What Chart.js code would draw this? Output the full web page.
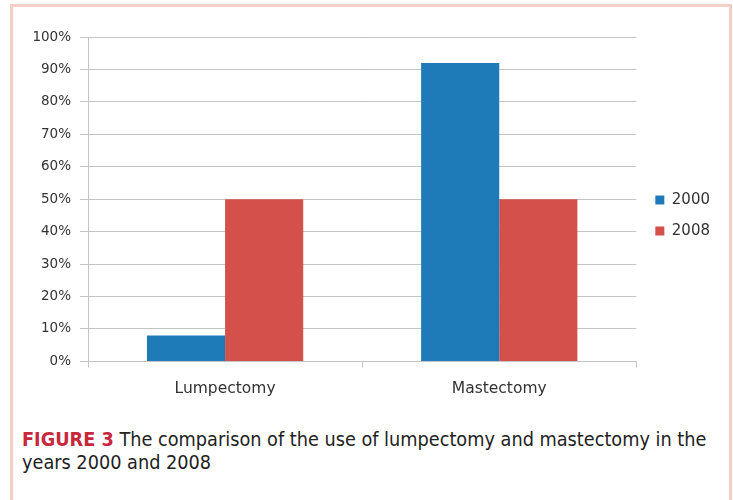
<!DOCTYPE html>
<html>
<head>
<meta charset="utf-8">
<script src="https://cdn.jsdelivr.net/npm/chart.js@4"></script>
<style>
  body { margin: 0; background: #fff; }
  .frame {
    position: absolute; left: 10px; top: 4px; width: 716px; height: 520px;
    border: 3px solid #f3cfc6; background: #fff;
  }
  .chart-box { position: absolute; left: 0; top: 0; width: 733px; height: 410px; }
  .caption {
    position: absolute; left: 22px; top: 428px; width: 705px;
    font-family: "DejaVu Sans Condensed", sans-serif;
    font-size: 19.7px; line-height: 23px; color: #222;
  }
  .caption b { color: #c8283c; }
</style>
</head>
<body>
<div class="frame"></div>
<div class="chart-box"><canvas id="chart"></canvas></div>
<div class="caption"><b>FIGURE 3</b> The comparison of the use of lumpectomy and mastectomy in the years 2000 and 2008</div>
<script>
// Data
const categories = ['Lumpectomy', 'Mastectomy'];
const values2000 = [8, 92];
const values2008 = [50, 50];
const yTicks = [0, 10, 20, 30, 40, 50, 60, 70, 80, 90, 100];

// nudge legend a bit higher and to the right, like the original
const legendShift = {
    id: 'legendShift',
    afterLayout(chart) {
        const lg = chart.legend;
        if (!lg) return;
        lg.top -= 8; lg.bottom -= 8;
        lg.left += 3; lg.right += 3;
    }
};

const ctx = document.getElementById('chart').getContext('2d');
new Chart(ctx, {
    type: 'bar',
    data: {
        labels: categories,
        datasets: [
            { label: '2000', data: values2000, backgroundColor: '#1f7bb8' },
            { label: '2008', data: values2008, backgroundColor: '#d4504b' }
        ]
    },
    options: {
        responsive: true,
        maintainAspectRatio: false,
        animation: false,
        layout: { padding: { left: 10, top: 37, right: 16, bottom: 0 } },
        datasets: { bar: { categoryPercentage: 0.57, barPercentage: 1 } },
        plugins: {
            legend: {
                position: 'right',
                labels: {
                    boxWidth: 9, boxHeight: 9, padding: 16,
                    color: '#333', font: { family: 'DejaVu Sans', size: 15 }
                }
            },
            tooltip: { enabled: false }
        },
        scales: {
            y: {
                min: 0, max: 100,
                afterBuildTicks: s => { s.ticks = yTicks.map(v => ({ value: v })); },
                afterFit: s => { s.width = 78; },
                ticks: { color: '#333', font: { family: 'DejaVu Sans', size: 13.5 }, callback: v => v + '%', padding: 9 },
                grid: { color: '#c4c4c4', tickLength: 8 },
                border: { color: '#c4c4c4' }
            },
            x: {
                ticks: { color: '#333', font: { family: 'DejaVu Sans', size: 15.5 }, padding: 12 },
                grid: { offset: true, drawOnChartArea: false, color: '#c4c4c4', tickLength: 6 },
                border: { color: '#c4c4c4' }
            }
        }
    },
    plugins: [legendShift]
});
</script>
</body>
</html>
